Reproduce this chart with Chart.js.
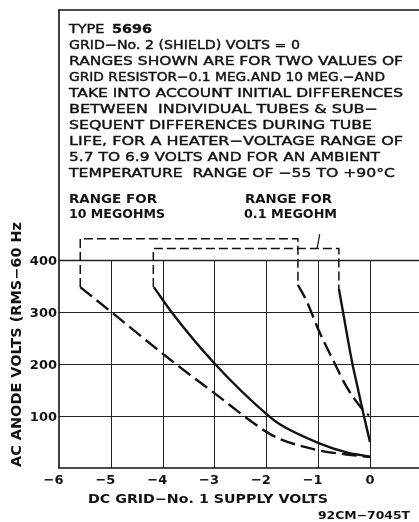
<!DOCTYPE html>
<html>
<head>
<meta charset="utf-8">
<script src="https://cdn.jsdelivr.net/npm/chart.js@4.4.1/dist/chart.umd.min.js"></script>
<style>
  html, body { margin: 0; padding: 0; background: #fff; }
  #wrap { width: 419px; height: 522px; position: relative; }
</style>
</head>
<body>
<div id="wrap"><canvas id="myChart"></canvas></div>
<script>
const xTicks = [-6, -5, -4, -3, -2, -1, 0];
const yTicks = [100, 200, 300, 400];

// 10 megohm range - dashed
const tenMegLowX = [-5.59, -4.99, -3.90, -2.99, -1.99, -1.74, -0.99, -0.45, 0];
const tenMegLowY = [348, 300, 212, 143, 69, 56, 34, 26, 21];
const tenMegHighX = [-1.39, -1.23, -0.99, -0.71, -0.45, -0.13, -0.02];
const tenMegHighY = [352, 323, 265, 207, 156, 111, 101];
const tenMegBracketX = [-5.59, -5.59, -1.39, -1.39];
const tenMegBracketY = [348, 441, 441, 352];

// 0.1 megohm range - solid
const pointOneLowX = [-4.17, -3.83, -2.99, -1.99, -1.74, -0.99, -0.45, 0];
const pointOneLowY = [348, 300, 200, 103, 84, 48, 30, 22];
const pointOneHighX = [-0.60, -0.52, -0.34, -0.26, -0.13, 0];
const pointOneHighY = [345, 300, 201, 165, 106, 50];
const pointOneBracketX = [-4.18, -4.18, -0.60, -0.60];
const pointOneBracketY = [348, 422, 422, 345];
const leaderX = [-0.97, -1.02];
const leaderY = [450, 422];

const noteTitle = ['TYPE ', '5696'];
const noteLines = [
    'GRID−No. 2 (SHIELD) VOLTS = 0',
    'RANGES SHOWN ARE FOR TWO VALUES OF',
    'GRID RESISTOR−0.1 MEG.AND 10 MEG.−AND',
    'TAKE INTO ACCOUNT INITIAL DIFFERENCES',
    'BETWEEN  INDIVIDUAL TUBES & SUB−',
    'SEQUENT DIFFERENCES DURING TUBE',
    'LIFE, FOR A HEATER−VOLTAGE RANGE OF',
    '5.7 TO 6.9 VOLTS AND FOR AN AMBIENT',
    'TEMPERATURE  RANGE OF −55 TO +90°C'
];
const rangeLabels = [['RANGE FOR', '10 MEGOHMS'], ['RANGE FOR', '0.1 MEGOHM']];
const xTitle = 'DC GRID−No. 1 SUPPLY VOLTS';
const yTitle = 'AC ANODE VOLTS (RMS−60 Hz';
const drawingNo = '92CM−7045T';

function pts(xs, ys) {
    return xs.map((x, i) => ({ x: x, y: ys[i] }));
}

const INK = '#111';

function curve(xs, ys, dash) {
    return {
        data: pts(xs, ys),
        borderColor: INK,
        borderWidth: 2.4,
        borderDash: dash,
        pointRadius: 0,
        cubicInterpolationMode: 'monotone',
        fill: false
    };
}

function bracket(xs, ys, width, dash) {
    return {
        data: pts(xs, ys),
        borderColor: INK,
        borderWidth: width,
        borderDash: dash,
        pointRadius: 0,
        tension: 0,
        fill: false
    };
}

// stretch a string horizontally to a given width, optional stroke for weight
function fitText(ctx, str, x, y, w, weight) {
    const m = ctx.measureText(str).width;
    ctx.save();
    ctx.translate(x, y);
    ctx.scale(w / m, 1);
    ctx.fillText(str, 0, 0);
    if (weight) {
        ctx.strokeStyle = INK;
        ctx.lineWidth = weight;
        ctx.strokeText(str, 0, 0);
    }
    ctx.restore();
}

function line(ctx, x1, y1, x2, y2) {
    ctx.beginPath();
    ctx.moveTo(x1, y1);
    ctx.lineTo(x2, y2);
    ctx.stroke();
}

const paperPlugin = {
    id: 'paper',
    beforeDatasetsDraw(chart) {
        const ctx = chart.ctx;
        const xs = chart.scales.x, ys = chart.scales.y;
        const a = chart.chartArea;
        const y0 = ys.getPixelForValue(0);
        const yTop = ys.getPixelForValue(yTicks[yTicks.length - 1]);
        ctx.save();
        ctx.strokeStyle = '#222';
        ctx.lineWidth = 1;
        xTicks.slice(1).forEach(v => {
            const px = Math.round(xs.getPixelForValue(v)) + 0.5;
            line(ctx, px, y0, px, yTop);
        });
        yTicks.forEach(v => {
            const py = Math.round(ys.getPixelForValue(v)) + 0.5;
            ctx.lineWidth = v === 400 ? 1.5 : 1;
            line(ctx, a.left, py, a.right, py);
        });
        ctx.strokeStyle = INK;
        ctx.lineWidth = 1.6;
        line(ctx, a.left, a.top, a.left, a.bottom);
        line(ctx, a.left - 1, a.bottom, a.right, a.bottom);
        line(ctx, a.left - 1, a.top, a.right, a.top);
        ctx.restore();
    },
    afterDraw(chart) {
        const ctx = chart.ctx;
        const xs = chart.scales.x, ys = chart.scales.y;
        ctx.save();
        ctx.fillStyle = INK;
        ctx.textBaseline = 'alphabetic';
        ctx.textAlign = 'left';

        // note block
        ctx.font = '12.5px "DejaVu Sans"';
        fitText(ctx, noteTitle[0], 69, 33, 40, 0.4);
        ctx.font = 'bold 12.5px "DejaVu Sans"';
        fitText(ctx, noteTitle[1], 112, 33, 40, 0.3);
        const widths = [231, 334, 316, 334, 309, 303, 334, 311, 326];
        ctx.font = '12.5px "DejaVu Sans"';
        noteLines.forEach((s, i) => fitText(ctx, s, 69, 48.5 + i * 16.1, widths[i], 0.4));

        ctx.font = 'bold 12.5px "DejaVu Sans"';
        fitText(ctx, rangeLabels[0][0], 69, 202.7, 88);
        fitText(ctx, rangeLabels[0][1], 69, 218.3, 96);
        fitText(ctx, rangeLabels[1][0], 245, 202.7, 87);
        fitText(ctx, rangeLabels[1][1], 244, 218.3, 93);

        // tick labels
        ctx.font = 'bold 13px "DejaVu Sans"';
        ctx.textAlign = 'right';
        yTicks.forEach(v => {
            ctx.fillText(String(v), 57, ys.getPixelForValue(v) + 5);
        });
        xTicks.forEach(v => {
            const digit = String(Math.abs(v));
            const half = ctx.measureText(digit).width / 2;
            const lbl = v < 0 ? '−' + digit : digit;
            ctx.fillText(lbl, xs.getPixelForValue(v) + half, 483.5);
        });

        // axis titles
        ctx.textAlign = 'left';
        ctx.font = 'bold 12.5px "DejaVu Sans"';
        fitText(ctx, xTitle, 88, 503, 240);
        ctx.save();
        ctx.translate(20.5, 467);
        ctx.rotate(-Math.PI / 2);
        ctx.font = 'bold 13.5px "DejaVu Sans"';
        fitText(ctx, yTitle, 0, 0, 245);
        ctx.restore();

        ctx.font = 'bold 11px "DejaVu Sans"';
        fitText(ctx, drawingNo, 318, 519, 92);
        ctx.restore();
    }
};

const ctx = document.getElementById('myChart').getContext('2d');

const myChart = new Chart(ctx, {
    type: 'line',
    data: {
        datasets: [
            curve(tenMegLowX, tenMegLowY, [15, 6]),
            curve(tenMegHighX, tenMegHighY, [15, 6]),
            bracket(tenMegBracketX, tenMegBracketY, 1.5, [9, 4]),
            curve(pointOneLowX, pointOneLowY, []),
            curve(pointOneHighX, pointOneHighY, []),
            bracket(pointOneBracketX, pointOneBracketY, 1.5, [9, 4]),
            bracket(leaderX, leaderY, 1.2, [])
        ]
    },
    options: {
        responsive: true,
        maintainAspectRatio: false,
        animation: false,
        layout: { padding: { left: 59, top: 10, right: 0, bottom: 54 } },
        plugins: { legend: { display: false }, tooltip: { enabled: false } },
        scales: {
            x: { type: 'linear', min: -6, max: 0.946, display: false },
            y: { type: 'linear', min: 0, max: 881, display: false }
        }
    },
    plugins: [paperPlugin]
});
</script>
</body>
</html>
